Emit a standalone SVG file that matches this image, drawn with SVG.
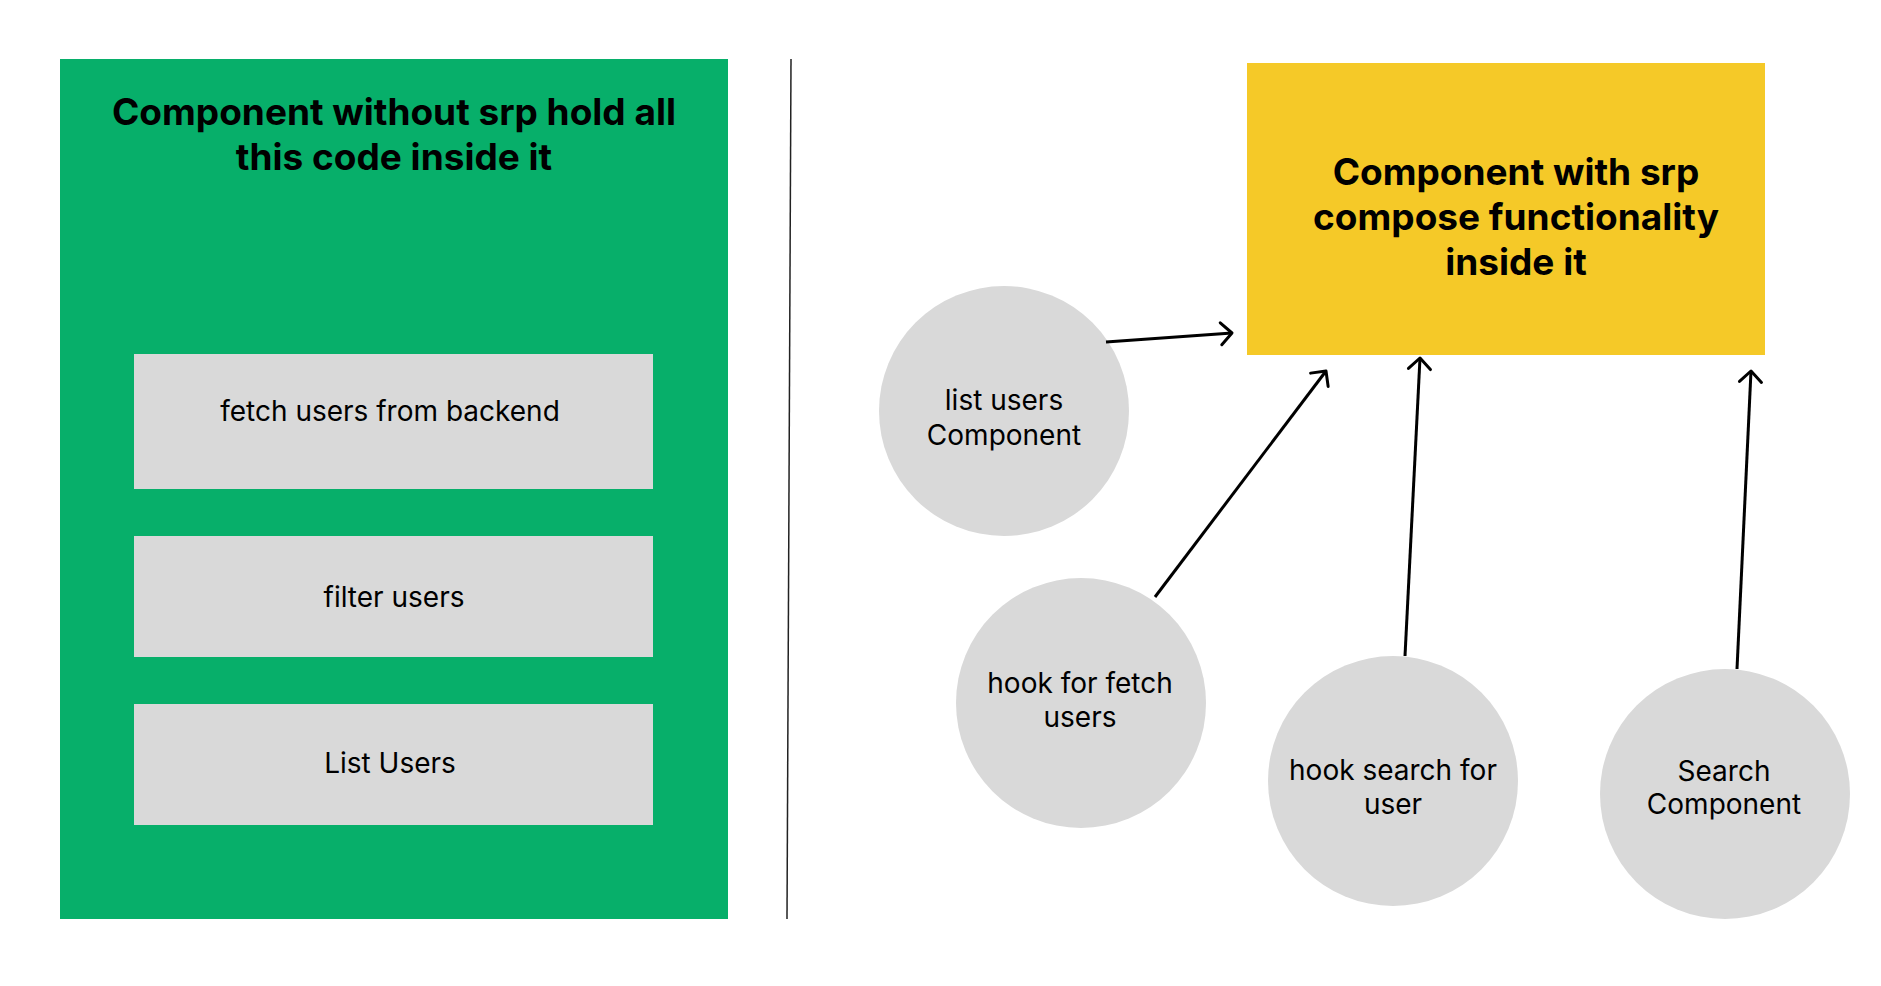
<svg xmlns="http://www.w3.org/2000/svg" width="1881" height="986" viewBox="0 0 1881 986">
  <style>
    .title { font-family: Inter, "Liberation Sans", sans-serif; font-weight: 700; font-size: 37px; fill: #000; text-anchor: middle; }
    .lbl { font-family: Inter, "Liberation Sans", sans-serif; font-weight: 400; font-size: 28px; fill: #000; text-anchor: middle; }
    .box { fill: #D9D9D9; }
    .circ { fill: #D9D9D9; }
    .conn { stroke: #000; stroke-width: 3; fill: none; marker-end: url(#arrow); }
  </style>
  <defs>
    <marker id="arrow" markerUnits="userSpaceOnUse" markerWidth="30" markerHeight="30" viewBox="-15 -15 30 30" refX="0" refY="0" orient="auto">
      <path d="M -11 -11 L 0 0 L -11 11" fill="none" stroke="#000" stroke-width="3" stroke-linecap="round" stroke-linejoin="round"/>
    </marker>
  </defs>
  <rect width="1881" height="986" fill="#FFFFFF"/>

  <g id="left-panel">
    <rect x="60" y="59" width="668" height="860" fill="#07AF6A"/>
    <text class="title" x="394" y="125">Component without srp hold all</text>
    <text class="title" x="394" y="170">this code inside it</text>
  </g>

  <g id="fetch-box">
    <rect class="box" x="134" y="354" width="519" height="135"/>
    <text class="lbl" x="390" y="421">fetch users from backend</text>
  </g>
  <g id="filter-box">
    <rect class="box" x="134" y="536" width="519" height="121"/>
    <text class="lbl" x="394" y="607">filter users</text>
  </g>
  <g id="list-box">
    <rect class="box" x="134" y="704" width="519" height="121"/>
    <text class="lbl" x="390" y="773">List Users</text>
  </g>

  <g id="divider">
    <line x1="791" y1="59" x2="787" y2="919" stroke="#222" stroke-width="1.5"/>
  </g>

  <g id="srp-component">
    <rect x="1247" y="63" width="518" height="292" fill="#F5C928"/>
    <text class="title" x="1516" y="185">Component with srp</text>
    <text class="title" x="1516" y="230">compose functionality</text>
    <text class="title" x="1516" y="275">inside it</text>
  </g>

  <g id="list-users-component">
    <circle class="circ" cx="1004" cy="411" r="125"/>
    <text class="lbl" x="1004" y="410">list users</text>
    <text class="lbl" x="1004" y="445">Component</text>
  </g>
  <g id="hook-fetch">
    <circle class="circ" cx="1081" cy="703" r="125"/>
    <text class="lbl" x="1080" y="693">hook for fetch</text>
    <text class="lbl" x="1080" y="727">users</text>
  </g>
  <g id="hook-search">
    <circle class="circ" cx="1393" cy="781" r="125"/>
    <text class="lbl" x="1393" y="780">hook search for</text>
    <text class="lbl" x="1393" y="814">user</text>
  </g>
  <g id="search-component">
    <circle class="circ" cx="1725" cy="794" r="125"/>
    <text class="lbl" x="1724" y="781">Search</text>
    <text class="lbl" x="1724" y="814">Component</text>
  </g>

  <g id="connectors">
    <line class="conn" x1="1106" y1="342" x2="1232" y2="333"/>
    <line class="conn" x1="1155" y1="597" x2="1326" y2="371"/>
    <line class="conn" x1="1405" y1="656" x2="1420" y2="358"/>
    <line class="conn" x1="1737" y1="669" x2="1751" y2="371"/>
  </g>
</svg>
